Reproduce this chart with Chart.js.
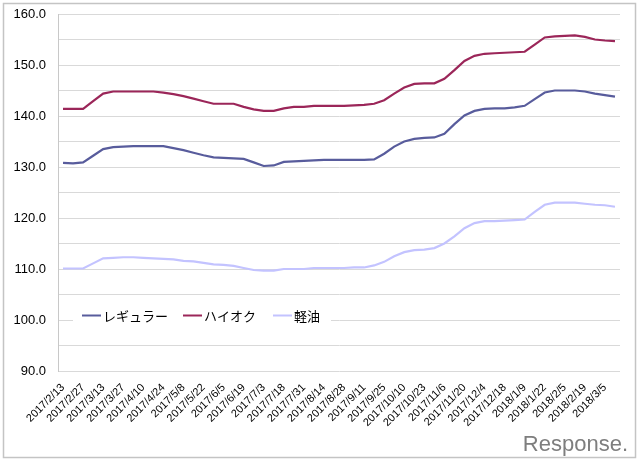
<!DOCTYPE html>
<html>
<head>
<meta charset="utf-8">
<script src="https://cdn.jsdelivr.net/npm/chart.js@4"></script>
<style>
html, body { margin: 0; padding: 0; background: #fff; }
#wrap { width: 640px; height: 461px; }
</style>
</head>
<body>
<div id="wrap"><canvas id="priceChart" width="640" height="461"></canvas></div>
<script>
// 調査日（週次）
const categories = [
    '2017/2/13', '2017/2/20', '2017/2/27', '2017/3/6', '2017/3/13', '2017/3/21', '2017/3/27', '2017/4/3',
    '2017/4/10', '2017/4/17', '2017/4/24', '2017/5/1', '2017/5/8', '2017/5/15', '2017/5/22', '2017/5/29',
    '2017/6/5', '2017/6/12', '2017/6/19', '2017/6/26', '2017/7/3', '2017/7/10', '2017/7/18', '2017/7/24',
    '2017/7/31', '2017/8/7', '2017/8/14', '2017/8/21', '2017/8/28', '2017/9/4', '2017/9/11', '2017/9/19',
    '2017/9/25', '2017/10/2', '2017/10/10', '2017/10/16', '2017/10/23', '2017/10/30', '2017/11/6', '2017/11/13',
    '2017/11/20', '2017/11/27', '2017/12/4', '2017/12/11', '2017/12/18', '2017/12/25', '2018/1/9', '2018/1/15',
    '2018/1/22', '2018/1/29', '2018/2/5', '2018/2/13', '2018/2/19', '2018/2/26', '2018/3/5', '2018/3/12'
];

const regular = [
    130.8, 130.7, 130.9, 132.2, 133.5, 133.9, 134.0, 134.1, 134.1, 134.1, 134.1, 133.7, 133.3, 132.8,
    132.3, 131.9, 131.8, 131.7, 131.6, 130.9, 130.2, 130.3, 131.0, 131.1, 131.2, 131.3, 131.4, 131.4,
    131.4, 131.4, 131.4, 131.5, 132.6, 134.0, 135.0, 135.5, 135.7, 135.8, 136.5, 138.4, 140.1, 141.0,
    141.4, 141.5, 141.5, 141.7, 142.0, 143.3, 144.6, 145.0, 145.0, 145.0, 144.8, 144.4, 144.1, 143.8
];

const highOctane = [
    141.4, 141.4, 141.4, 142.9, 144.4, 144.8, 144.8, 144.8, 144.8, 144.8, 144.6, 144.3, 143.9, 143.4,
    142.9, 142.4, 142.4, 142.4, 141.8, 141.3, 141.0, 141.0, 141.5, 141.8, 141.8, 142.0, 142.0, 142.0,
    142.0, 142.1, 142.2, 142.4, 143.1, 144.4, 145.6, 146.3, 146.4, 146.4, 147.3, 149.0, 150.8, 151.8,
    152.2, 152.3, 152.4, 152.5, 152.6, 154.0, 155.4, 155.6, 155.7, 155.8, 155.5, 155.0, 154.8, 154.7
];

const diesel = [
    110.1, 110.1, 110.1, 111.1, 112.1, 112.2, 112.3, 112.3, 112.2, 112.1, 112.0, 111.9, 111.6, 111.5,
    111.2, 110.9, 110.8, 110.6, 110.2, 109.8, 109.7, 109.7, 110.0, 110.0, 110.0, 110.2, 110.2, 110.2,
    110.2, 110.3, 110.3, 110.7, 111.4, 112.5, 113.3, 113.7, 113.8, 114.1, 115.0, 116.4, 118.0, 119.0,
    119.4, 119.4, 119.5, 119.6, 119.7, 121.2, 122.6, 123.0, 123.0, 123.0, 122.8, 122.6, 122.5, 122.2
];

const seriesNames = ['レギュラー', 'ハイオク', '軽油'];
const seriesColors = ['#585c9c', '#9b2659', '#c3c3ff'];

const yMin = 90;
const yMax = 160;
const yStep = 5;

// 外枠とロゴ
const framePlugin = {
    id: 'frame',
    beforeDraw(chart) {
        const ctx = chart.ctx;
        ctx.save();
        ctx.fillStyle = '#fff';
        ctx.fillRect(0, 0, chart.width, chart.height);
        ctx.strokeStyle = '#c4c4c4';
        ctx.lineWidth = 1.5;
        ctx.strokeRect(3.5, 3.5, 632, 454);
        ctx.restore();
    },
    afterDraw(chart) {
        const ctx = chart.ctx;
        ctx.save();
        ctx.fillStyle = '#7e7e7e';
        ctx.font = '22px "Liberation Sans", sans-serif';
        ctx.textAlign = 'right';
        ctx.textBaseline = 'alphabetic';
        ctx.fillText('Response.', 628, 451);
        ctx.restore();
    }
};

// グラフ内の凡例
const inlineLegend = {
    id: 'inlineLegend',
    afterDatasetsDraw(chart) {
        const ctx = chart.ctx;
        const y = 315.5;
        const items = [82, 183, 273];
        ctx.save();
        ctx.fillStyle = '#fff';
        ctx.fillRect(73, 306, 258, 18);
        ctx.font = '13px "Noto Sans CJK JP", sans-serif';
        ctx.textBaseline = 'middle';
        chart.data.datasets.forEach((ds, i) => {
            const x = items[i];
            ctx.strokeStyle = ds.borderColor;
            ctx.lineWidth = 2;
            ctx.beginPath();
            ctx.moveTo(x, y);
            ctx.lineTo(x + 19, y);
            ctx.stroke();
            ctx.fillStyle = '#000';
            ctx.fillText(ds.label, x + 21, y + 1);
        });
        ctx.restore();
    }
};

const ctx = document.getElementById('priceChart').getContext('2d');
new Chart(ctx, {
    type: 'line',
    data: {
        labels: categories,
        datasets: [
            { label: seriesNames[0], data: regular, borderColor: seriesColors[0] },
            { label: seriesNames[1], data: highOctane, borderColor: seriesColors[1] },
            { label: seriesNames[2], data: diesel, borderColor: seriesColors[2] }
        ]
    },
    options: {
        responsive: false,
        animation: false,
        layout: { padding: { top: 14, right: 20, left: 0, bottom: 0 } },
        elements: {
            point: { radius: 0 },
            line: { borderWidth: 2.2, tension: 0, fill: false }
        },
        plugins: {
            legend: { display: false },
            tooltip: { enabled: false }
        },
        scales: {
            x: {
                type: 'category',
                offset: true,
                grid: { display: false },
                border: { display: false },
                ticks: {
                    autoSkip: false,
                    maxRotation: 45,
                    minRotation: 45,
                    padding: 2,
                    color: '#000',
                    font: { family: '"Liberation Sans", sans-serif', size: 11 },
                    callback: function(value, index) {
                        return index % 2 === 0 ? categories[index] : '';
                    }
                },
                afterFit: function(scale) {
                    scale.height = 90;
                    scale.paddingLeft = 0;
                    scale.paddingRight = 0;
                }
            },
            y: {
                min: yMin,
                max: yMax,
                grid: { color: '#d9d9d9', lineWidth: 1, drawTicks: false },
                border: { display: true, color: '#c8c8c8', width: 1 },
                ticks: {
                    stepSize: yStep,
                    padding: 12,
                    color: '#000',
                    font: { family: '"Liberation Sans", sans-serif', size: 13 },
                    callback: function(value) {
                        return value % 10 === 0 ? value.toFixed(1) : '';
                    }
                },
                afterFit: function(scale) {
                    scale.width = 58;
                    scale.paddingTop = 0;
                    scale.paddingBottom = 0;
                }
            }
        }
    },
    plugins: [framePlugin, inlineLegend]
});
</script>
</body>
</html>
